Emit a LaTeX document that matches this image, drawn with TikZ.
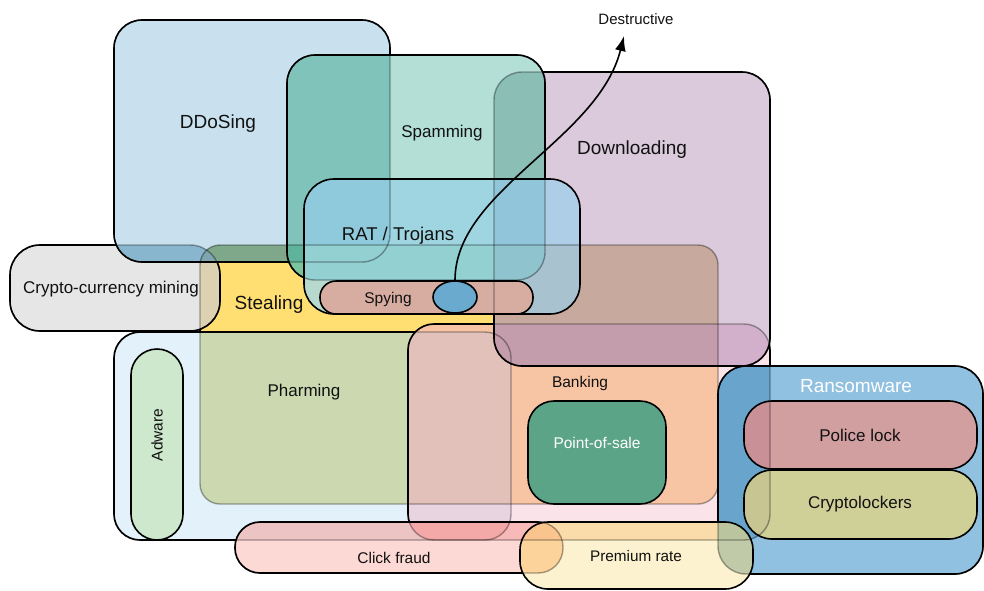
\documentclass[tikz,border=0pt]{standalone}
\usepackage{fontspec}
\setmainfont{Liberation Sans}
\usetikzlibrary{arrows.meta,shapes.geometric}
\definecolor{cSteal}{HTML}{FFDE72}
\definecolor{cCrypto}{HTML}{E6E6E6}
\definecolor{cCrSt}{HTML}{DCD1B1}
\definecolor{cDD}{HTML}{C9E1EF}
\definecolor{cDDCr}{HTML}{88B6CF}
\definecolor{cDDSt}{HTML}{7FA88A}
\definecolor{cDDStCr}{HTML}{7FA6AE}
\definecolor{cC}{HTML}{E3F1FB}
\definecolor{cCSt}{HTML}{CCD8B0}
\definecolor{cAdw}{HTML}{CDE8CD}
\definecolor{cP}{HTML}{FBE3EA}
\definecolor{cPSt}{HTML}{F7C5A3}
\definecolor{cPC}{HTML}{E8D4E0}
\definecolor{cPCSt}{HTML}{E3C1BB}
\definecolor{cDL}{HTML}{DACADB}
\definecolor{cDLSt}{HTML}{C7A99D}
\definecolor{cDLP}{HTML}{D2B0CC}
\definecolor{cDLPSt}{HTML}{C49DAD}
\definecolor{cSp}{HTML}{B3DFD6}
\definecolor{cSpDD}{HTML}{80C3BB}
\definecolor{cSpDL}{HTML}{8BBFB5}
\definecolor{cSpSt}{HTML}{7CC49C}
\definecolor{cSpStDD}{HTML}{5FB39A}
\definecolor{cRat}{HTML}{9FD5E1}
\definecolor{cRatDD}{HTML}{8ECADB}
\definecolor{cRatDL}{HTML}{AECDE6}
\definecolor{cRatDLSp}{HTML}{91C6DA}
\definecolor{cRatSt}{HTML}{B8DACE}
\definecolor{cRatStSp}{HTML}{92D0D2}
\definecolor{cRatStDL}{HTML}{A8C3CF}
\definecolor{cRatStDLSp}{HTML}{8FC4CE}
\definecolor{cSpy}{HTML}{D8ADA1}
\definecolor{cR}{HTML}{91C1E0}
\definecolor{cRP}{HTML}{68A4CC}
\definecolor{cPol}{HTML}{D29FA1}
\definecolor{cPolP}{HTML}{C99097}
\definecolor{cCl}{HTML}{CFCF98}
\definecolor{cClP}{HTML}{C7C592}
\definecolor{cCF}{HTML}{FDD9D5}
\definecolor{cCFC}{HTML}{EDC4C4}
\definecolor{cCFP}{HTML}{F8B9B9}
\definecolor{cCFPC}{HTML}{F4A9A9}
\definecolor{cPR}{HTML}{FDF2CF}
\definecolor{cPRP}{HTML}{FADBAA}
\definecolor{cPRR}{HTML}{C1CAA8}
\definecolor{cPRRP}{HTML}{BAC5A0}
\definecolor{cPRCF}{HTML}{FDD39C}
\definecolor{cPRCFP}{HTML}{FAC48F}
\definecolor{cPos}{HTML}{5BA488}
\definecolor{cDot}{HTML}{6AAACE}
\definecolor{ink}{HTML}{111111}
\newcommand{\Ssteal}{[rounded corners=20pt] (200,245) rectangle (718,504)}
\newcommand{\Scrypto}{[rounded corners=30pt] (10,245) rectangle (220,331)}
\newcommand{\Sddos}{[rounded corners=28pt] (114,20) rectangle (390,262)}
\newcommand{\Scont}{[rounded corners=26pt] (114,332) rectangle (511,540)}
\newcommand{\Sadw}{[rounded corners=26pt] (131,349) rectangle (183,540)}
\newcommand{\Spk}{[rounded corners=26pt] (408,324) rectangle (770,540)}
\newcommand{\Sdl}{[rounded corners=28pt] (494,72) rectangle (770,366)}
\newcommand{\Sspam}{[rounded corners=28pt] (287,55) rectangle (545,280)}
\newcommand{\Srat}{[rounded corners=30pt] (304,179) rectangle (580,314)}
\newcommand{\Sspy}{[rounded corners=16pt] (320,281) rectangle (533,314)}
\newcommand{\Spos}{[rounded corners=26pt] (528,401) rectangle (666,504)}
\newcommand{\Sran}{[rounded corners=28pt] (718,366) rectangle (983,574)}
\newcommand{\Spol}{[rounded corners=28pt] (744,401) rectangle (977,469)}
\newcommand{\Scl}{[rounded corners=28pt] (744,470) rectangle (977,539)}
\newcommand{\Sclick}{[rounded corners=25pt] (235,522) rectangle (563,573)}
\newcommand{\Sprem}{[rounded corners=28pt] (520,522) rectangle (753,589)}
\tikzset{
  bd/.style={draw=black, line width=1.6pt},
  fb/.style={draw=black, draw opacity=0.35, line width=1.4pt},
  lbl/.style={font=\fontsize{#1}{#1}\selectfont, inner sep=0pt, text=ink},
}
\begin{document}
\begin{tikzpicture}[x=1pt,y=-1pt]
\useasboundingbox (0,0) rectangle (984,590);
\fill[white] (0,0) rectangle (984,590);
% Stealing
\fill[cSteal] \Ssteal; \draw[bd] \Ssteal;
% Crypto mining
\fill[cCrypto] \Scrypto;
\begin{scope}\clip \Ssteal; \fill[cCrSt] \Scrypto;\end{scope}
\draw[bd] \Scrypto;
% DDoSing
\fill[cDD] \Sddos;
\begin{scope}\clip \Scrypto; \fill[cDDCr] \Sddos;\end{scope}
\begin{scope}\clip \Ssteal; \fill[cDDSt] \Sddos;\end{scope}
\begin{scope}\clip \Ssteal; \clip \Scrypto; \fill[cDDStCr] \Sddos;\end{scope}
\draw[bd] \Sddos;
% container (Adware / Pharming)
\fill[cC] \Scont;
\begin{scope}\clip \Ssteal; \fill[cCSt] \Scont;\end{scope}
\draw[bd] \Scont;
\fill[cAdw] \Sadw; \draw[bd] \Sadw;
% pink box (Banking)
\fill[cP] \Spk;
\begin{scope}\clip \Ssteal; \fill[cPSt] \Spk;\end{scope}
\begin{scope}\clip \Scont; \fill[cPC] \Spk;\end{scope}
\begin{scope}\clip \Scont; \clip \Ssteal; \fill[cPCSt] \Spk;\end{scope}
\draw[bd] \Spk;
% Downloading
\fill[cDL] \Sdl;
\begin{scope}\clip \Ssteal; \fill[cDLSt] \Sdl;\end{scope}
\begin{scope}\clip \Spk; \fill[cDLP] \Sdl;\end{scope}
\begin{scope}\clip \Spk; \clip \Ssteal; \fill[cDLPSt] \Sdl;\end{scope}
\draw[bd] \Sdl;
% Spamming
\fill[cSp] \Sspam;
\begin{scope}\clip \Sddos; \fill[cSpDD] \Sspam;\end{scope}
\begin{scope}\clip \Sdl; \fill[cSpDL] \Sspam;\end{scope}
\begin{scope}\clip \Ssteal; \fill[cSpSt] \Sspam;\end{scope}
\begin{scope}\clip \Ssteal; \clip \Sddos; \fill[cSpStDD] \Sspam;\end{scope}
\draw[bd] \Sspam;
% RAT / Trojans
\fill[cRat] \Srat;
\begin{scope}\clip \Sspam; \clip \Sddos; \fill[cRatDD] \Srat;\end{scope}
\begin{scope}\clip \Sdl; \fill[cRatDL] \Srat;\end{scope}
\begin{scope}\clip \Sdl; \clip \Sspam; \fill[cRatDLSp] \Srat;\end{scope}
\begin{scope}\clip \Ssteal; \fill[cRatSt] \Srat;\end{scope}
\begin{scope}\clip \Ssteal; \clip \Sspam; \fill[cRatStSp] \Srat;\end{scope}
\begin{scope}\clip \Ssteal; \clip \Sdl; \fill[cRatStDL] \Srat;\end{scope}
\begin{scope}\clip \Ssteal; \clip \Sdl; \clip \Sspam; \fill[cRatStDLSp] \Srat;\end{scope}
\draw[bd] \Srat;
% Spying
\fill[cSpy] \Sspy; \draw[bd] \Sspy;
% Ransomware
\fill[cR] \Sran;
\begin{scope}\clip \Spk; \fill[cRP] \Sran;\end{scope}
\draw[bd] \Sran;
\fill[cPol] \Spol;
\begin{scope}\clip \Spk; \fill[cPolP] \Spol;\end{scope}
\draw[bd] \Spol;
\fill[cCl] \Scl;
\begin{scope}\clip \Spk; \fill[cClP] \Scl;\end{scope}
\draw[bd] \Scl;
% Click fraud
\fill[cCF] \Sclick;
\begin{scope}\clip \Scont; \fill[cCFC] \Sclick;\end{scope}
\begin{scope}\clip \Spk; \fill[cCFP] \Sclick;\end{scope}
\begin{scope}\clip \Spk; \clip \Scont; \fill[cCFPC] \Sclick;\end{scope}
\draw[bd] \Sclick;
% Premium rate
\fill[cPR] \Sprem;
\begin{scope}\clip \Spk; \fill[cPRP] \Sprem;\end{scope}
\begin{scope}\clip \Sran; \fill[cPRR] \Sprem;\end{scope}
\begin{scope}\clip \Sran; \clip \Spk; \fill[cPRRP] \Sprem;\end{scope}
\begin{scope}\clip \Sclick; \fill[cPRCF] \Sprem;\end{scope}
\begin{scope}\clip \Sclick; \clip \Spk; \fill[cPRCFP] \Sprem;\end{scope}
\draw[bd] \Sprem;
% Point-of-sale
\fill[cPos] \Spos; \draw[bd] \Spos;
% faint borders seen through the shapes above them
\draw[fb] \Ssteal; \draw[fb] \Scrypto; \draw[fb] \Sddos; \draw[fb] \Scont;
\draw[fb] \Spk; \draw[fb] \Sdl; \draw[fb] \Sspam; \draw[fb] \Sran;
\draw[fb] \Sclick;
% spying dot and arrow
\node[ellipse, draw=black, line width=1.6pt, fill=cDot, minimum width=44pt, minimum height=32pt, inner sep=0pt] (dot) at (455,297) {};
\coordinate (tip) at (624,36);
\node[lbl=15] (dest) at (636,19) {Destructive};
\draw[line width=1.6pt, -{Latex[length=15pt,width=11pt]}] (dot.north) .. controls (455,190) and (598,140) .. (tip);
% labels
\node[lbl=19] (tddos) at (218,124) {DDoSing};
\node[lbl=17] (tspam) at (442,133) {Spamming};
\node[lbl=19] (tdl) at (632,150) {Downloading};
\node[lbl=18.5] (trat) at (398,236) {RAT / Trojans};
\node[lbl=17] (tcry) at (111,289) {Crypto-currency mining};
\node[lbl=19] (tsteal) at (269,305) {Stealing};
\node[lbl=15.5] (tspy) at (388,299) {Spying};
\node[lbl=17] (tpharm) at (304,392) {Pharming};
\node[lbl=15.5] (tbank) at (580,383) {Banking};
\node[lbl=15.5, text=white] (tpos) at (597,443) {Point-of-sale};
\node[lbl=15.5, rotate=90] (tadw) at (157,435) {Adware};
\node[lbl=19, text=white] (tran) at (856,386) {Ransomware};
\node[lbl=17] (tpol) at (860,435) {Police lock};
\node[lbl=17] (tcl) at (860,504) {Cryptolockers};
\node[lbl=15.5] (tclick) at (394,558) {Click fraud};
\node[lbl=15.3] (tprem) at (636,556) {Premium rate};
\end{tikzpicture}
\end{document}
